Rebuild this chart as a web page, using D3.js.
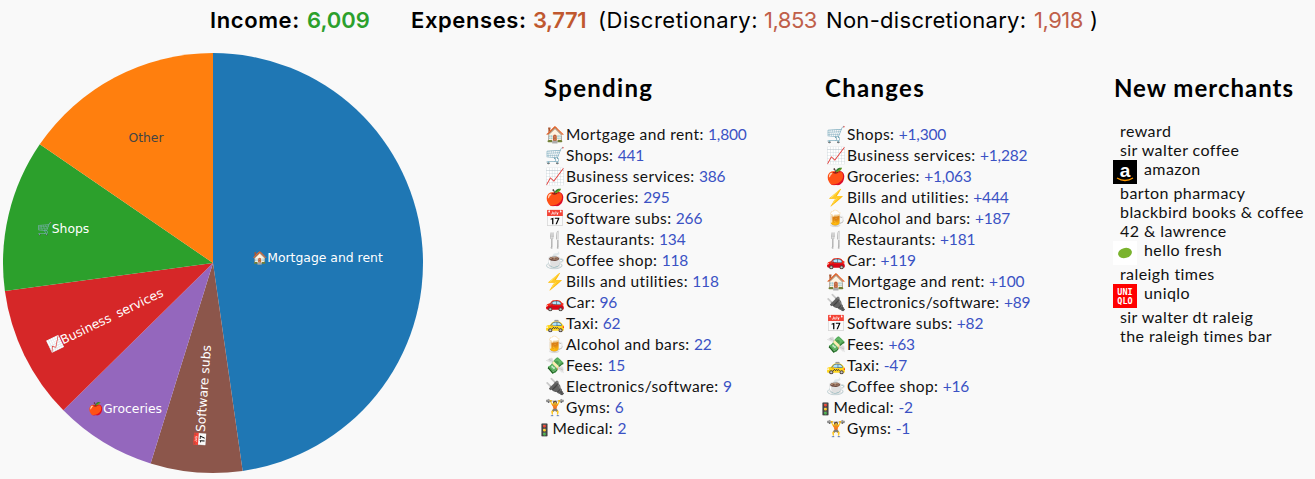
<!DOCTYPE html>
<html><head><meta charset="utf-8">
<script src="https://cdnjs.cloudflare.com/ajax/libs/d3/7.8.5/d3.min.js"></script>
<style>html,body{margin:0;padding:0;background:#f9f9f9;overflow:hidden}svg{display:block}</style>
</head><body><svg id="c" width="1315" height="479"></svg>
<script>
const pieLabels=["Mortgage and rent","Software subs","Groceries","Business services","Shops","Other"];
const pieValues=[1800,266,295,386,441,582];
const pieColors=["#1f77b4","#8c564b","#9467bd","#d62728","#2ca02c","#ff7f0e"];
const spendNames=["Mortgage and rent","Shops","Business services","Groceries","Software subs","Restaurants","Coffee shop","Bills and utilities","Car","Taxi","Alcohol and bars","Fees","Electronics/software","Gyms","Medical"];
const spendValues=["1,800","441","386","295","266","134","118","118","96","62","22","15","9","6","2"];
const changeNames=["Shops","Business services","Groceries","Bills and utilities","Alcohol and bars","Restaurants","Car","Mortgage and rent","Electronics/software","Software subs","Fees","Taxi","Coffee shop","Medical","Gyms"];
const changeValues=["+1,300","+1,282","+1,063","+444","+187","+181","+119","+100","+89","+82","+63","-47","+16","-2","-1"];
const merchants=["reward","sir walter coffee","amazon","barton pharmacy","blackbird books & coffee","42 & lawrence","hello fresh","raleigh times","uniqlo","sir walter dt raleig","the raleigh times bar"];
const emoji={"Mortgage and rent":"🏠","Shops":"🛒","Business services":"📈","Groceries":"🍎","Software subs":"📅","Restaurants":"🍴","Coffee shop":"☕","Bills and utilities":"⚡","Car":"🚗","Taxi":"🚕","Alcohol and bars":"🍺","Fees":"💸","Electronics/software":"🔌","Gyms":"🏋","Medical":"🚦"};
const svg=d3.select("#c");
const F="Lato, sans-serif";
const arc=d3.arc().innerRadius(0).outerRadius(210);
const arcs=d3.pie().sort(null).value(d=>d)(pieValues);
svg.append("g").attr("transform","translate(213,263)").selectAll("path").data(arcs).join("path")
 .attr("d",arc).attr("fill",(d,i)=>pieColors[i]);
const lf=svg.append("g").attr("font-family","DejaVu Sans").attr("font-size",12.4).attr("text-anchor","middle");
const labelPos=[[317.5,257.5,0],[203,396,-86],[125,408.5,0],[105,319.5,-25.8],[63,228.5,0],[146,137.5,0]];
pieLabels.forEach((n,i)=>{
 const pos=labelPos[i];
 lf.append("text").attr("transform",`translate(${pos[0]},${pos[1]}) rotate(${pos[2]})`).attr("dy","0.35em")
  .attr("word-spacing",i==3?3:0).attr("fill",i==5?"#444":"#fff").text((emoji[n]||"")+n);
});
function seg(x,s,c,w,ls){svg.append("text").attr("x",x).attr("y",28).attr("font-family","Inter").attr("font-size",22).attr("font-weight",w||400).attr("letter-spacing",ls||0).attr("fill",c||"#000").text(s);}
seg(210,"Income:","#000",600,.6);seg(307,"6,009","#2ca02c",600);seg(411,"Expenses:","#000",600,.6);seg(533,"3,771","#c0582f",600,-.4);
seg(598,"(Discretionary:",null,400,.5);seg(764,"1,853","#c0604a",400,-.5);seg(826,"Non-discretionary:",null,400,.3);seg(1034,"1,918","#c0604a",400,-.5);seg(1090,")");
function head(x,s,ls){svg.append("text").attr("x",x).attr("y",97).attr("font-family",F).attr("font-size",24).attr("font-weight",700).attr("letter-spacing",ls).attr("fill","#000").text(s);}
head(544,"Spending",1.3);head(825,"Changes",1.3);head(1114,"New merchants",1);
function list(x,names,vals){
 names.forEach((n,i)=>{
  const y=139.5+i*21;
  const med=n=="Medical";
  svg.append("text").attr("x",med?x-9:x-1).attr("y",y).attr("font-family","sans-serif").attr("font-size",med?12:16).text(emoji[n]);
  const tx=svg.append("text").attr("x",med?x+6.5:x+20).attr("y",y).attr("font-family",F).attr("font-size",15.5).attr("letter-spacing",.4).attr("fill","#111");
  tx.append("tspan").text(n+": ");
  tx.append("tspan").attr("fill","#3b52c4").attr("letter-spacing",-.2).text(vals[i]);
 });
}
list(546,spendNames,spendValues);list(827,changeNames,changeValues);
const logoBox=[["amazon",160,"#000"],["hello fresh",241,"#fff"],["uniqlo",284,"#f00"]];
logoBox.forEach(([m,y,c])=>svg.append("rect").attr("x",1113).attr("y",y).attr("width",24).attr("height",24).attr("fill",c));
svg.append("text").attr("x",1125).attr("y",177).attr("text-anchor","middle").attr("font-family","Liberation Sans").attr("font-weight",700).attr("font-size",19).attr("fill","#fff").text("a");
svg.append("path").attr("d","M1117,178Q1125,183 1133,178").attr("fill","none").attr("stroke","#f90").attr("stroke-width",1.3);
svg.append("ellipse").attr("cx",1125).attr("cy",253).attr("rx",7).attr("ry",5).attr("transform","rotate(-15 1125 253)").attr("fill","#7ab32e");
[["UNI",294.5],["QLO",304]].forEach(([s,y])=>svg.append("text").attr("x",1125).attr("y",y).attr("text-anchor","middle").attr("font-family","DejaVu Sans Mono").attr("font-weight",700).attr("font-size",8.5).attr("fill","#fff").text(s));
const my=[137,156,175,199,218,237,256,280,299,323,342];
merchants.forEach((m,i)=>{
 const img=["amazon","hello fresh","uniqlo"].includes(m);
 svg.append("text").attr("x",img?1144:1120).attr("y",my[i]).attr("font-family",F).attr("font-size",16).attr("letter-spacing",.42).attr("fill","#111").text(m);
});
</script></body></html>
